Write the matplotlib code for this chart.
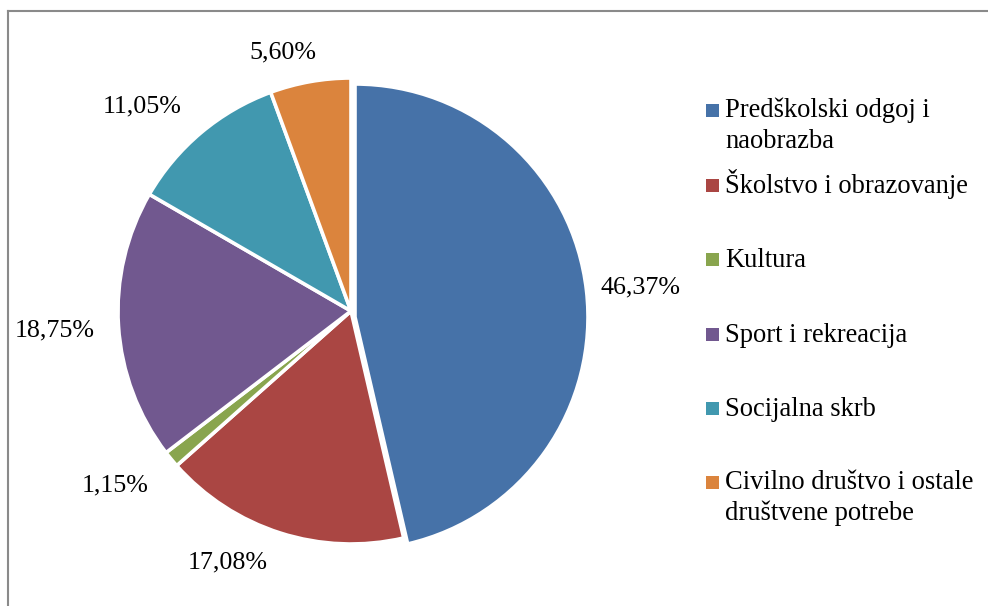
import numpy as np
import matplotlib.pyplot as plt
from matplotlib.lines import Line2D
from matplotlib.patches import Rectangle

plt.rcParams['font.family'] = ['Liberation Serif', 'DejaVu Serif']

categories = ['Predškolski odgoj i\nnaobrazba', 'Školstvo i obrazovanje', 'Kultura',
              'Sport i rekreacija', 'Socijalna skrb',
              'Civilno društvo i ostale\ndruštvene potrebe']
shares = [46.37, 17.08, 1.15, 18.75, 11.05, 5.60]
colors = ['#4672A8', '#AA4643', '#89A54E', '#71588F', '#4198AF', '#DB843D']

W, H = 988, 606
cx, cy, R = 351, 311, 233   # pie centre / radius in pixels
fs = 19.1

fig = plt.figure(figsize=(W / 100, H / 100), dpi=100)
ax = fig.add_axes([0, 0, 1, 1])

wedges, _ = ax.pie(shares, colors=colors, startangle=90, counterclock=False,
                   wedgeprops=dict(edgecolor='white', linewidth=2.6))
# first slice pulled out a little
wedges[0].set_center((4 / R, -6 / R))

ax.set_xlim(-cx / R, (W - cx) / R)
ax.set_ylim(-(H - cy) / R, cy / R)
ax.axis('off')

# data labels, outside end
ang_shift = [-1.8, -8.4, -3.1, 0, 5.6, 4.6]
lab_r = [1.245, 1.203, 1.258, 1.273, 1.253, 1.149]
for w, v, da, r in zip(wedges, shares, ang_shift, lab_r):
    mid = np.deg2rad((w.theta1 + w.theta2) / 2 + da)
    txt = f'{v:.2f}%'.replace('.', ',')
    ax.text(r * np.cos(mid), r * np.sin(mid), txt, ha='center', va='center',
            fontsize=fs - 0.4)

# legend
leg_base = [118, 193, 267, 342, 416, 490]
line_h = 30.5
for w, lab, yb in zip(wedges, categories, leg_base):
    fig.add_artist(Rectangle((706 / W, 1 - (yb - 1) / H), 13 / W, 13 / H,
                             transform=fig.transFigure,
                             facecolor=w.get_facecolor(), edgecolor='none'))
    n = lab.count('\n')
    fig.text(725 / W, 1 - (yb + n * line_h) / H, lab, ha='left', va='baseline',
             fontsize=fs, linespacing=1.33)

# chart area border (top and left visible)
fig.add_artist(Line2D([8 / W, 1], [1 - 11 / H, 1 - 11 / H],
                      transform=fig.transFigure, color='#8a8a8a', lw=1.5))
fig.add_artist(Line2D([8 / W, 8 / W], [0, 1 - 11 / H],
                      transform=fig.transFigure, color='#8a8a8a', lw=1.5))

fig.savefig('out.png', dpi=100)
